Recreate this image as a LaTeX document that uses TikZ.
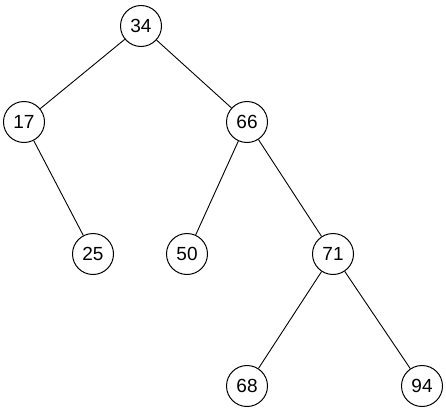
\documentclass[tikz,border=0pt]{standalone}
\usepackage{fontspec}
\setmainfont{Liberation Sans}
\begin{document}
\begin{tikzpicture}[x=1pt,y=-1pt,
  tnode/.style={circle,draw=black,line width=1pt,minimum size=41pt,inner sep=0pt,font=\fontsize{19}{19}\selectfont,fill=white},
  edge/.style={draw=black,line width=0.9pt}]
\useasboundingbox (0,0) rectangle (446,412);
\node[tnode] (n34) at (141,26) {34};
\node[tnode] (n17) at (24,122) {17};
\node[tnode] (n66) at (247,122) {66};
\node[tnode] (n25) at (93,254) {25};
\node[tnode] (n50) at (187,254) {50};
\node[tnode] (n71) at (333,254) {71};
\node[tnode] (n68) at (247,386) {68};
\node[tnode] (n94) at (422,386) {94};
\draw[edge] (n34) -- (n17);
\draw[edge] (n34) -- (n66);
\draw[edge] (n17) -- (n25);
\draw[edge] (n66) -- (n50);
\draw[edge] (n66) -- (n71);
\draw[edge] (n71) -- (n68);
\draw[edge] (n71) -- (n94);
\end{tikzpicture}
\end{document}
